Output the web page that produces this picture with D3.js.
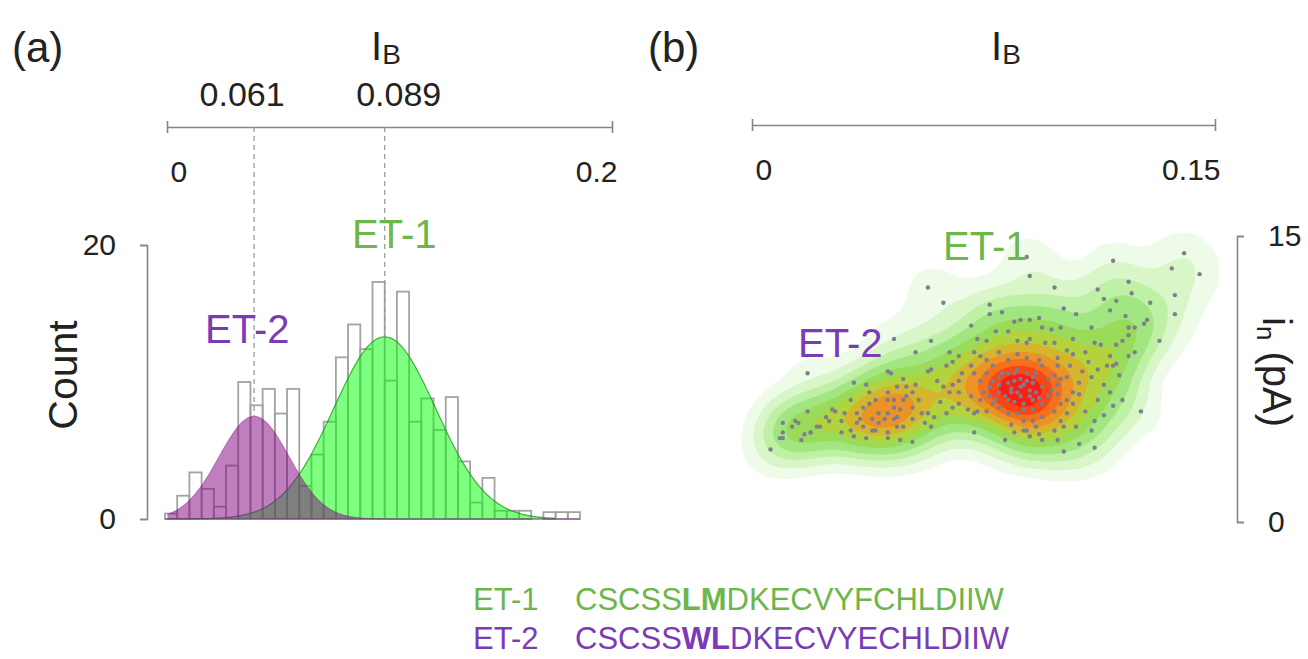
<!DOCTYPE html>
<html>
<head>
<meta charset="utf-8">
<script src="https://cdn.jsdelivr.net/npm/d3@7"></script>
<style>
  body { margin: 0; background: #fff; }
  svg { display: block; }
  text { font-family: "Liberation Sans", Arial, sans-serif; }
</style>
</head>
<body>
<svg id="chart"></svg>
<script>
const width = 1308;
const height = 659;

// ---- panel (a): histogram of I_B, counts per bin
const binCounts = [0.4, 1.7, 3.4, 2.2, 0.9, 3.9, 10.0, 8.3, 9.5, 7.7, 9.5, 2.4, 4.7, 7.1, 11.8, 14.2, 12.4,
                   17.3, 10.1, 16.6, 7.1, 8.8, 6.5, 8.9, 4.2, 1.2, 3.0, 0.6, 0.6, 0.6, 0, 0.5, 0.5, 0.5];
// gaussian fits (centre / width in bin units, peak in counts)
const fitNames = ['ET-2', 'ET-1'];
const fitCentres = [7.3, 18.0];
const fitWidths = [2.87, 4.18];
const fitPeaks = [7.5, 13.3];
const fitLabels = ['0.061', '0.089'];
const countTicks = [0, 20];
const ibTicksA = [0, 0.2];

// ---- panel (b): I_B vs i_n scatter
const ibTicksB = [0, 0.15];
const currentTicks = [0, 15];
const ibValues = [
  0.140, 0.145, 0.117, 0.136, 0.090, 0.089, 0.057, 0.062, 0.098, 0.112, 0.122, 0.123, 0.137, 0.114, 0.118, 0.129, 0.137, 0.132, 0.126, 0.077,
  0.077, 0.081, 0.101, 0.105, 0.116, 0.121, 0.093, 0.085, 0.087, 0.090, 0.071, 0.110, 0.122, 0.124, 0.127, 0.128, 0.046, 0.058, 0.053, 0.018,
  0.006, 0.010, 0.014, 0.010, 0.016, 0.019, 0.018, 0.022, 0.025, 0.027, 0.033, 0.037, 0.044, 0.045, 0.049, 0.053, 0.057, 0.058, 0.064, 0.065,
  0.073, 0.076, 0.079, 0.083, 0.086, 0.089, 0.090, 0.094, 0.097, 0.100, 0.095, 0.098, 0.102, 0.104, 0.099, 0.111, 0.113, 0.118, 0.120, 0.122,
  0.122, 0.124, 0.118, 0.115, 0.117, 0.109, 0.112, 0.119, 0.107, 0.110, 0.114, 0.116, 0.120, 0.117, 0.114, 0.111, 0.110, 0.105, 0.108, 0.102,
  0.102, 0.104, 0.106, 0.106, 0.100, 0.098, 0.096, 0.091, 0.089, 0.087, 0.085, 0.083, 0.080, 0.077, 0.074, 0.072, 0.071, 0.068, 0.067, 0.065,
  0.064, 0.062, 0.067, 0.071, 0.074, 0.077, 0.079, 0.082, 0.085, 0.088, 0.091, 0.093, 0.096, 0.099, 0.100, 0.098, 0.094, 0.091, 0.088, 0.086,
  0.083, 0.080, 0.076, 0.073, 0.072, 0.082, 0.085, 0.089, 0.090, 0.093, 0.094, 0.099, 0.101, 0.106, 0.111, 0.101, 0.098, 0.092, 0.088, 0.084,
  0.032, 0.034, 0.036, 0.038, 0.040, 0.041, 0.044, 0.046, 0.047, 0.049, 0.050, 0.052, 0.054, 0.057, 0.056, 0.058, 0.052, 0.049, 0.047, 0.044,
  0.039, 0.036, 0.034, 0.033, 0.037, 0.040, 0.048, 0.052, 0.044, 0.030, 0.029, 0.026, 0.024, 0.021, 0.019, 0.017, 0.015, 0.013, 0.010, 0.009,
  0.029, 0.032, 0.035, 0.039, 0.041, 0.046, 0.038, 0.044, 0.047, 0.050, 0.052, 0.055, 0.059, 0.061, 0.063, 0.065, 0.067, 0.070, 0.072, 0.083,
  0.086, 0.089, 0.080, 0.084, 0.087, 0.090, 0.092, 0.078, 0.076, 0.083, 0.089, 0.093, 0.094, 0.074, 0.080, 0.086, 0.099, 0.103, 0.104, 0.108,
  0.072, 0.067, 0.063, 0.060, 0.091, 0.088, 0.112, 0.104, 0.100, 0.116, 0.044, 0.046, 0.043, 0.048,
  0.078, 0.081, 0.084, 0.087, 0.091, 0.094, 0.097, 0.090, 0.086, 0.083, 0.078, 0.075, 0.094, 0.099, 0.102, 0.076, 0.088, 0.085, 0.092, 0.080
];
const inValues = [
  14.1, 13.0, 13.7, 13.3, 12.9, 13.9, 12.3, 11.5, 12.3, 12.2, 12.6, 12.0, 11.9, 11.7, 11.6, 11.5, 10.9, 9.5, 5.8, 11.4,
  10.9, 11.0, 11.2, 10.9, 11.1, 10.8, 10.7, 10.5, 10.6, 10.6, 10.3, 10.2, 10.2, 10.2, 10.4, 10.6, 9.6, 9.5, 8.9, 7.8,
  3.8, 5.2, 5.3, 4.4, 4.3, 4.7, 5.8, 5.0, 5.3, 5.8, 7.3, 7.2, 7.9, 7.8, 7.5, 7.2, 7.9, 8.0, 8.9, 8.4,
  9.6, 9.5, 10.0, 10.0, 9.5, 9.4, 9.6, 10.2, 10.1, 10.2, 9.4, 9.4, 9.0, 8.8, 8.6, 9.4, 9.3, 9.3, 9.5, 9.8,
  8.7, 8.9, 8.3, 8.2, 8.2, 8.4, 8.0, 7.7, 7.9, 7.6, 7.2, 6.8, 6.4, 6.1, 5.6, 5.3, 4.8, 5.0, 5.8, 5.7,
  6.4, 6.8, 6.7, 7.3, 7.5, 7.7, 7.5, 7.3, 7.4, 7.1, 7.4, 7.3, 7.2, 7.1, 7.4, 7.8, 8.2, 7.8, 7.4, 7.2,
  6.8, 7.1, 6.8, 6.6, 6.4, 6.6, 6.4, 6.6, 6.3, 6.2, 6.4, 6.5, 6.6, 6.7, 6.2, 5.8, 5.5, 5.3, 5.3, 5.7,
  5.7, 6.0, 5.8, 5.8, 4.7, 4.3, 4.7, 4.8, 4.5, 4.6, 4.3, 4.3, 3.7, 4.1, 3.9, 5.0, 4.8, 5.0, 4.8, 5.1,
  6.4, 5.7, 6.0, 6.2, 6.4, 5.7, 5.7, 6.0, 5.5, 6.4, 6.6, 6.8, 6.4, 5.7, 5.2, 5.0, 5.4, 5.0, 5.0, 4.7,
  4.8, 5.0, 5.2, 4.5, 4.4, 4.8, 4.3, 4.2, 4.4, 5.7, 5.3, 5.9, 5.5, 5.0, 4.7, 4.6, 5.2, 5.0, 4.7, 4.4,
  4.7, 4.8, 5.4, 5.4, 5.2, 5.4, 6.8, 6.8, 7.1, 7.1, 6.0, 5.7, 5.5, 6.3, 5.7, 6.0, 6.2, 5.9, 5.7, 7.8,
  8.0, 7.8, 7.6, 6.8, 6.6, 6.9, 7.8, 8.2, 8.5, 8.5, 8.6, 8.5, 8.2, 8.7, 8.9, 8.8, 8.2, 8.2, 9.6, 8.9,
  8.9, 8.7, 8.2, 7.4, 5.9, 5.9, 6.4, 6.2, 5.3, 8.7, 6.4, 6.4, 5.4, 5.9,
  7.4, 7.8, 7.0, 7.5, 7.6, 7.1, 6.9, 6.6, 6.8, 6.4, 6.2, 6.8, 6.2, 7.2, 7.6, 7.8, 7.2, 7.8, 6.8, 6.8
];

// ---- sequences under the panels
const seqNames = ['ET-1', 'ET-2'];
const seqParts = [['CSCSS', 'LM', 'DKECVYFCHLDIIW'], ['CSCSS', 'WL', 'DKECVYECHLDIIW']];

const green = '#6db64a';
const purple = '#7b3bb5';
const axisGrey = '#858585';
const ink = '#222';

const svg = d3.select('#chart').attr('width', width).attr('height', height);
svg.append('rect').attr('width', width).attr('height', height).attr('fill', '#fff');

// ================= panel (a) =================
const xBin = d3.scaleLinear().domain([0, binCounts.length]).range([165, 580]);
const yCount = d3.scaleLinear().domain([0, 20]).range([519, 245]);
const xTopA = d3.scaleLinear().domain([0, 0.2]).range([167, 612]);

svg.append('text').attr('x', 12).attr('y', 62).attr('font-size', 42).attr('fill', ink).text('(a)');

function ibTitle(cx) {
  const t = svg.append('text').attr('x', cx).attr('y', 60).attr('text-anchor', 'middle').attr('fill', ink);
  t.append('tspan').attr('font-size', 40).text('I');
  t.append('tspan').attr('font-size', 28).attr('dy', 4).text('B');
}
ibTitle(386);

function topAxis(scale, ticks, y) {
  const g = svg.append('g').attr('transform', `translate(0,${y})`)
    .call(d3.axisBottom(scale).tickValues(ticks).tickSizeOuter(0).tickSizeInner(6)
      .tickPadding(28).tickFormat(d => String(d)));
  g.select('.domain').attr('stroke', axisGrey).attr('stroke-width', 1.6);
  g.selectAll('.tick line').attr('y1', -6).attr('y2', 6).attr('stroke', axisGrey).attr('stroke-width', 1.6);
  g.selectAll('.tick text')
    .attr('font-size', 30).attr('fill', ink).attr('font-family', '"Liberation Sans", Arial, sans-serif')
    .attr('text-anchor', (d, i) => i === 0 ? 'start' : 'end')
    .attr('dx', (d, i) => i === 0 ? 3 : 5);
  return g;
}
topAxis(xTopA, ibTicksA, 127);

// histogram bars
svg.append('g').selectAll('rect')
  .data(binCounts.map((v, i) => ({ i, v })).filter(d => d.v > 0))
  .join('rect')
  .attr('x', d => xBin(d.i))
  .attr('width', d => xBin(d.i + 1) - xBin(d.i))
  .attr('y', d => yCount(d.v))
  .attr('height', d => yCount(0) - yCount(d.v))
  .attr('fill', 'none')
  .attr('stroke', '#a3a3a3')
  .attr('stroke-width', 1.8);

// gaussian fits: green drawn first, purple on top (overlap turns grey)
const gauss = (k, b) => fitPeaks[k] * Math.exp(-0.5 * ((b - fitCentres[k]) / fitWidths[k]) ** 2);
const samples = d3.range(0.2, 32.01, 0.1);
const fitFill = ['rgba(128,0,128,0.5)', 'rgba(0,255,0,0.5)'];
const fitEdge = ['rgba(128,0,128,0.35)', 'rgba(20,150,20,0.75)'];
[1, 0].forEach(k => {
  svg.append('path').datum(samples)
    .attr('d', d3.area().x(b => xBin(b)).y0(yCount(0)).y1(b => yCount(gauss(k, b))))
    .attr('fill', fitFill[k]);
  svg.append('path').datum(samples)
    .attr('d', d3.line().x(b => xBin(b)).y(b => yCount(gauss(k, b))))
    .attr('fill', 'none').attr('stroke', fitEdge[k]).attr('stroke-width', 1.2);
});
svg.append('line')
  .attr('x1', xBin(0)).attr('x2', xBin(binCounts.length))
  .attr('y1', yCount(0)).attr('y2', yCount(0))
  .attr('stroke', 'rgba(128,60,128,0.55)').attr('stroke-width', 1.5);

// dashed guides from top axis to the fit peaks, with peak labels
fitCentres.forEach((c, k) => {
  svg.append('line')
    .attr('x1', xBin(c)).attr('x2', xBin(c))
    .attr('y1', 127).attr('y2', yCount(fitPeaks[k]))
    .attr('stroke', '#9a9a9a').attr('stroke-width', 1.3).attr('stroke-dasharray', '5,4');
  svg.append('text')
    .attr('x', xBin(c) + (k === 0 ? -12 : 14)).attr('y', 106)
    .attr('text-anchor', 'middle').attr('font-size', 34).attr('fill', ink)
    .text(fitLabels[k]);
});

// y axis (Count)
const yAxA = svg.append('g').attr('transform', 'translate(147,0)')
  .call(d3.axisLeft(yCount).tickValues(countTicks).tickSize(7).tickPadding(24));
yAxA.select('.domain').attr('stroke', axisGrey).attr('stroke-width', 1.6);
yAxA.selectAll('.tick line').attr('stroke', axisGrey).attr('stroke-width', 1.6);
yAxA.selectAll('.tick text').attr('font-size', 30).attr('fill', ink)
  .attr('font-family', '"Liberation Sans", Arial, sans-serif');
svg.append('text').attr('transform', 'translate(77,375) rotate(-90)')
  .attr('text-anchor', 'middle').attr('font-size', 41).attr('fill', ink).text('Count');

svg.append('text').attr('x', 205).attr('y', 343).attr('font-size', 40).attr('fill', purple).text(fitNames[0]);
svg.append('text').attr('x', 352).attr('y', 248).attr('font-size', 40).attr('fill', green).text(fitNames[1]);

// ================= panel (b) =================
const xIB = d3.scaleLinear().domain([0, 0.15]).range([752, 1215]);
const yIn = d3.scaleLinear().domain([0, 15]).range([522, 236]);

svg.append('text').attr('x', 648).attr('y', 62).attr('font-size', 42).attr('fill', ink).text('(b)');
ibTitle(1006);
topAxis(xIB, ibTicksB, 125);

const points = ibValues.map((v, i) => [v, inValues[i]]);
const density = d3.contourDensity()
  .x(d => xIB(d[0])).y(d => yIn(d[1]))
  .size([width, height]).cellSize(2).bandwidth(19);

const levelFractions = [0.025, 0.07, 0.13, 0.2, 0.29, 0.38, 0.48, 0.58, 0.68, 0.78, 0.89];
const levelColours = ['#eefbe8', '#d8f6c8', '#bef0a6', '#a2e682', '#9adb5a', '#b4d23c',
                      '#d6b52e', '#ec9326', '#f5701c', '#fb4514', '#ff1c10'];

let densityAt, densityMax;
if (density.contours) {
  const c = density.contours(points);
  densityAt = t => c(t);
  densityMax = c.max;
} else {
  const all = density.thresholds(400)(points);
  densityMax = d3.max(all, d => d.value);
  densityAt = t => density.thresholds([t])(points)[0];
}
const geo = d3.geoPath();
svg.append('g').selectAll('path')
  .data(levelFractions)
  .join('path')
  .attr('d', f => geo(densityAt(f * densityMax)))
  .attr('fill', (f, i) => levelColours[i]);

svg.append('g').selectAll('circle')
  .data(points)
  .join('circle')
  .attr('cx', d => xIB(d[0]))
  .attr('cy', d => yIn(d[1]))
  .attr('r', 2.2)
  .attr('fill', '#7e7e8c');

const yAxB = svg.append('g').attr('transform', 'translate(1237,0)')
  .call(d3.axisRight(yIn).tickValues(currentTicks).tickSize(7).tickPadding(24));
yAxB.select('.domain').attr('stroke', axisGrey).attr('stroke-width', 1.6);
yAxB.selectAll('.tick line').attr('stroke', axisGrey).attr('stroke-width', 1.6);
yAxB.selectAll('.tick text').attr('font-size', 30).attr('fill', ink)
  .attr('font-family', '"Liberation Sans", Arial, sans-serif');

const inTitle = svg.append('text').attr('transform', 'translate(1263,372) rotate(90)')
  .attr('text-anchor', 'middle').attr('fill', ink).attr('font-size', 40);
inTitle.append('tspan').text('i');
inTitle.append('tspan').attr('font-size', 26).attr('dy', 6).text('n');
inTitle.append('tspan').attr('dy', -6).text(' (pA)');

svg.append('text').attr('x', 943).attr('y', 260).attr('font-size', 40).attr('fill', green).text('ET-1');
svg.append('text').attr('x', 798).attr('y', 357).attr('font-size', 40).attr('fill', purple).text('ET-2');

// ================= sequences =================
const seqColours = [green, purple];
seqNames.forEach((name, k) => {
  const y = 610 + k * 39;
  svg.append('text').attr('x', 473).attr('y', y).attr('font-size', 31).attr('fill', seqColours[k]).text(name);
  const t = svg.append('text').attr('x', 575).attr('y', y).attr('font-size', 31).attr('fill', seqColours[k]);
  seqParts[k].forEach((part, j) => {
    t.append('tspan').attr('font-weight', j === 1 ? 'bold' : 'normal').text(part);
  });
});
</script>
</body>
</html>
